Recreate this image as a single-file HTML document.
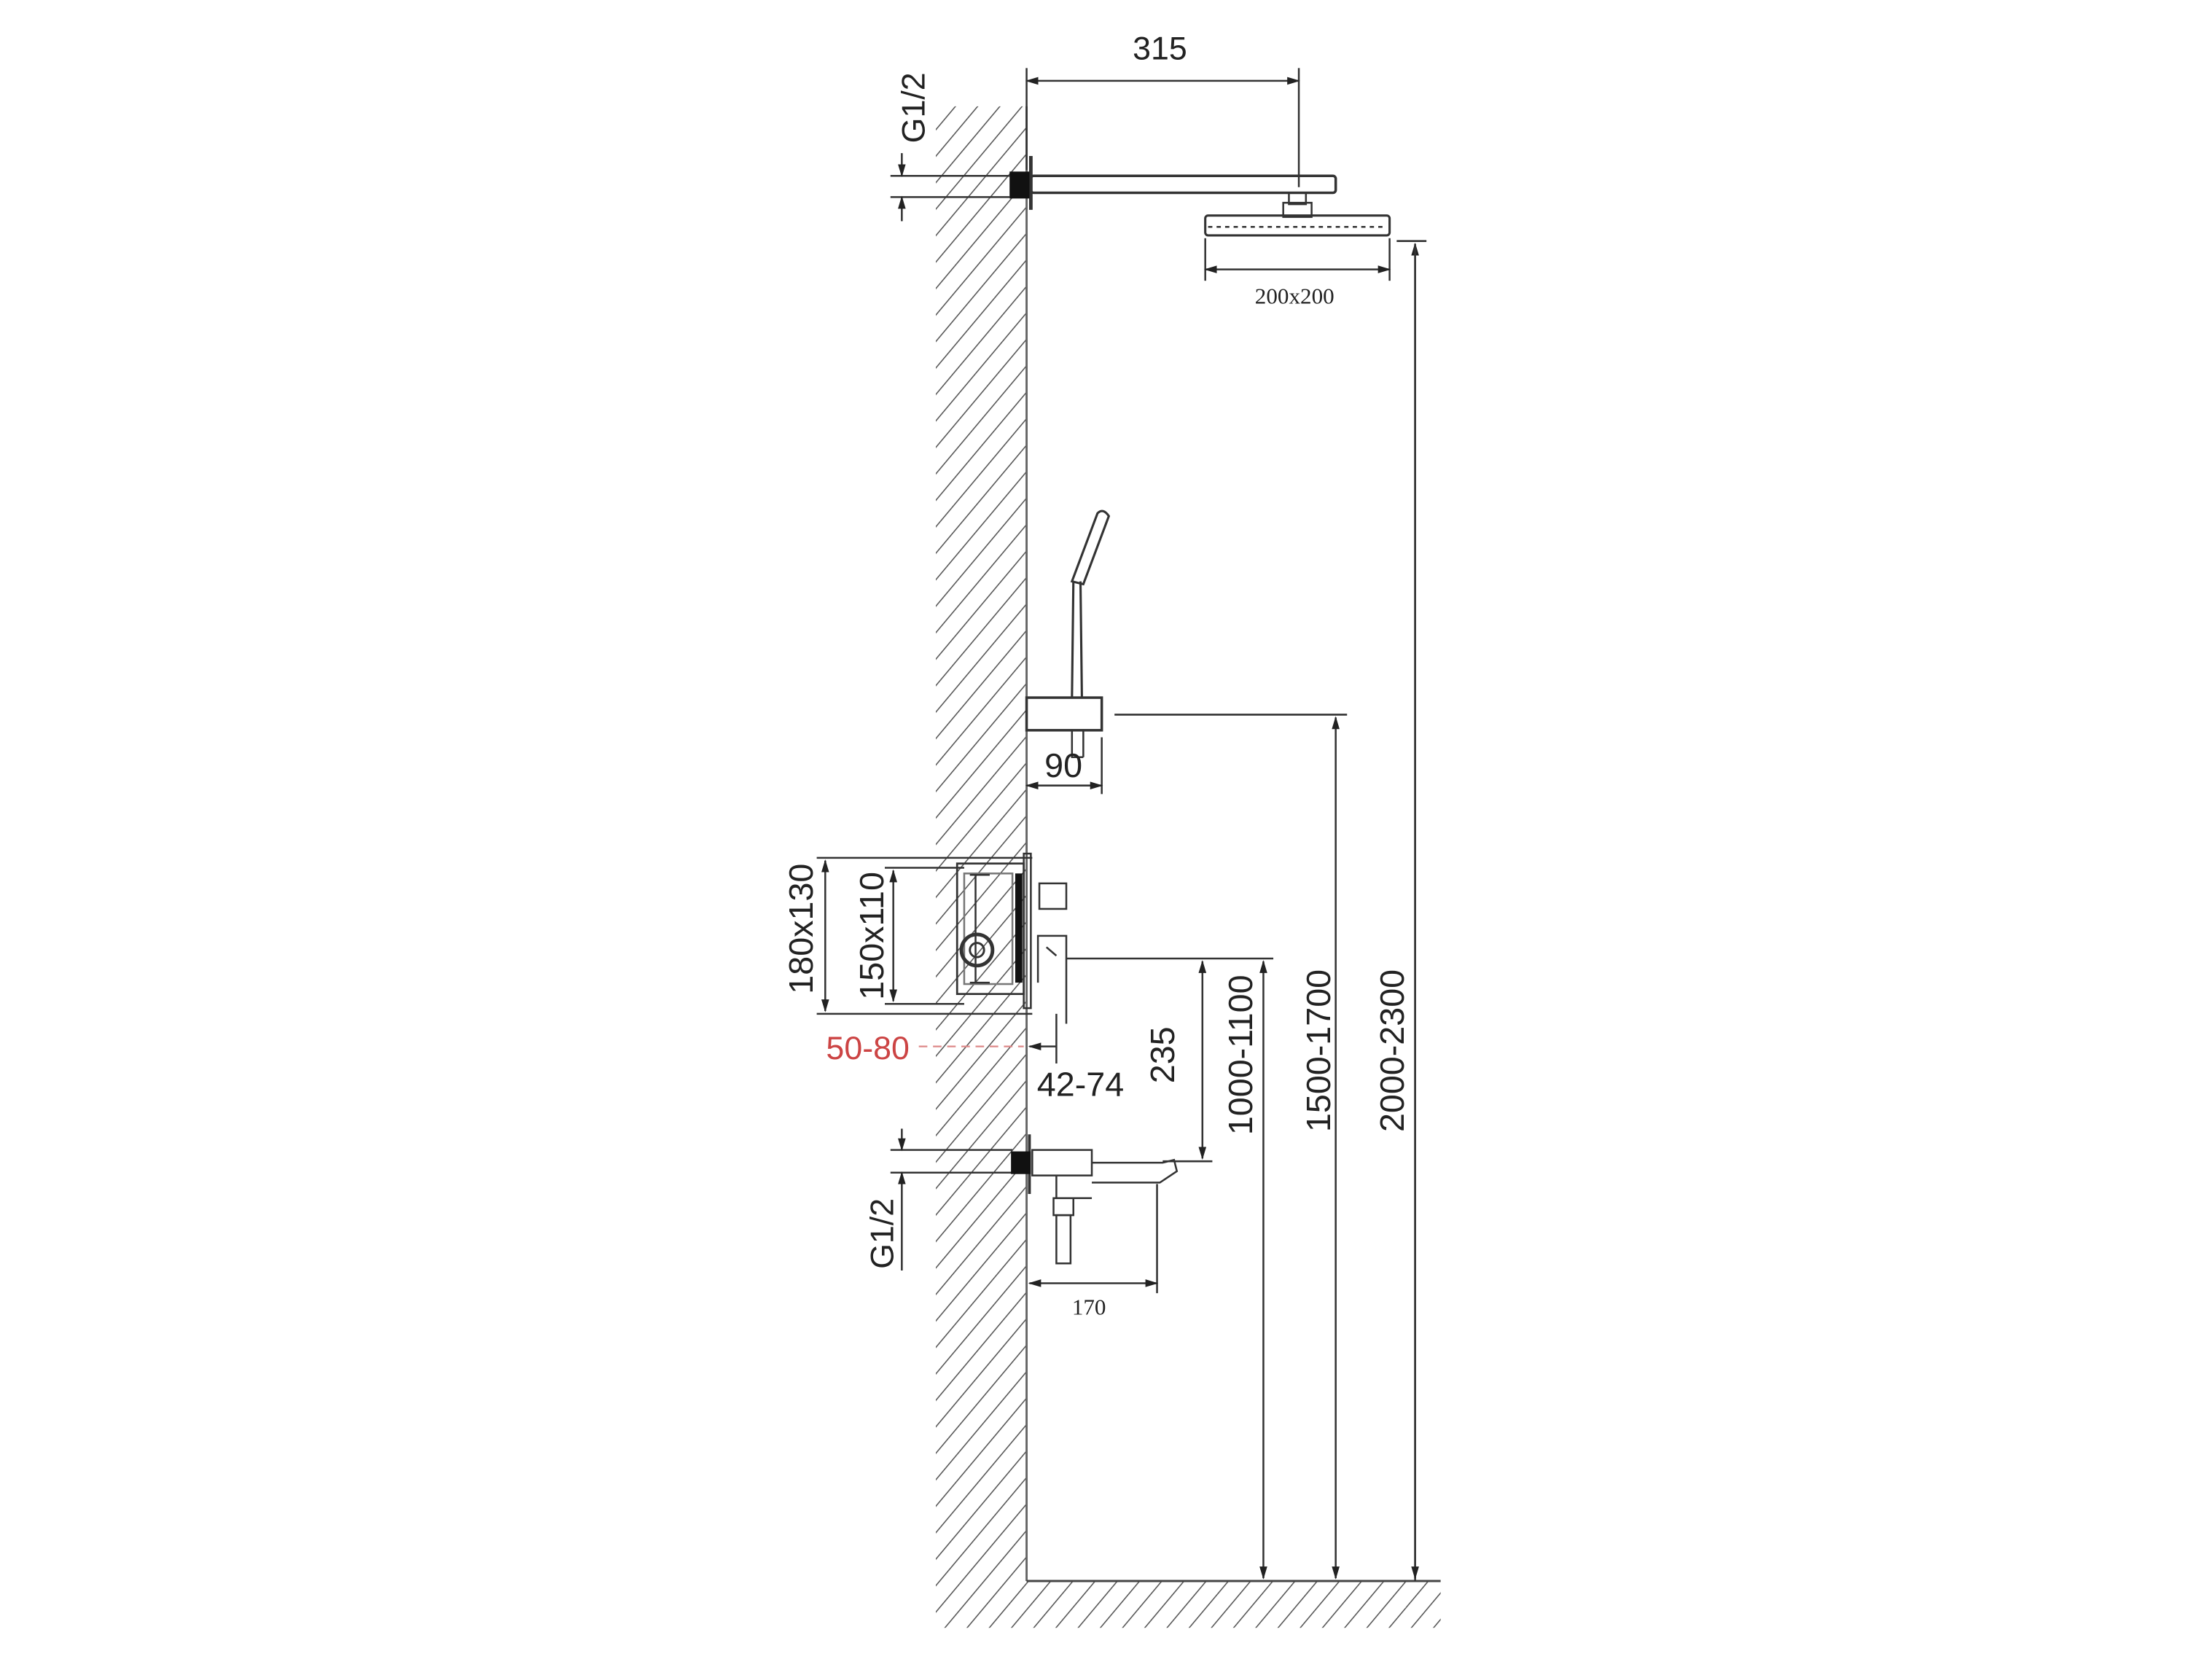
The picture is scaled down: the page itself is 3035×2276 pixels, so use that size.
<!DOCTYPE html>
<html><head><meta charset="utf-8"><style>
html,body{margin:0;padding:0;background:#fff;}
svg{display:block;}
text{font-family:"Liberation Sans",sans-serif;fill:#222;}
.s{font-family:"Liberation Serif",serif;}
</style></head><body>
<svg width="3035" height="2276" viewBox="0 0 1560 1170" preserveAspectRatio="none" xmlns="http://www.w3.org/2000/svg">
<defs>
<pattern id="h" patternUnits="userSpaceOnUse" width="12" height="12" patternTransform="rotate(40)">
<line x1="0" y1="0" x2="0" y2="12" stroke="#555" stroke-width="1.6"/>
</pattern>
<marker id="a" viewBox="0 0 10 10" refX="9" refY="5" markerWidth="7" markerHeight="7" orient="auto-start-reverse"><path d="M0,2 L10,5 L0,8z" fill="#222"/></marker>
</defs>
<rect width="1560" height="1170" fill="#fff"/>
<!-- wall & floor hatch -->
<rect x="660" y="75" width="64" height="1073" fill="url(#h)"/>
<rect x="724" y="1115" width="292" height="33" fill="url(#h)"/>
<line x1="724" y1="75" x2="724" y2="1115" stroke="#666" stroke-width="1.5"/>
<line x1="724" y1="1115" x2="1016" y2="1115" stroke="#444" stroke-width="1.5"/>
<g stroke="#333" fill="none" stroke-width="1.3">
<!-- top dim 315 -->
<line x1="724" y1="57" x2="916" y2="57" marker-start="url(#a)" marker-end="url(#a)"/>
<line x1="724" y1="48" x2="724" y2="120"/>
<line x1="916" y1="48" x2="916" y2="132"/>
<!-- arm -->
<rect x="727" y="124" width="215" height="12" rx="2" stroke-width="1.8"/>
<line x1="727" y1="110" x2="727" y2="148" stroke-width="2.5"/>
<!-- G1/2 top -->
<line x1="628" y1="124" x2="712" y2="124"/>
<line x1="628" y1="139" x2="712" y2="139"/>
<line x1="636" y1="108" x2="636" y2="124" marker-end="url(#a)"/>
<line x1="636" y1="156" x2="636" y2="139" marker-end="url(#a)"/>
<!-- head -->
<rect x="909" y="136" width="12" height="8"/>
<rect x="905" y="143" width="20" height="10"/>
<rect x="850" y="152" width="130" height="14" rx="2" stroke-width="1.6"/>
<line x1="852" y1="160" x2="978" y2="160" stroke-dasharray="3 3"/>
<line x1="850" y1="168" x2="850" y2="198"/>
<line x1="980" y1="168" x2="980" y2="198"/>
<line x1="850" y1="190" x2="980" y2="190" marker-start="url(#a)" marker-end="url(#a)"/>
<!-- big verticals -->
<line x1="985" y1="170" x2="1006" y2="170"/>
<line x1="998" y1="1115" x2="998" y2="172" marker-end="url(#a)"/>
<line x1="998" y1="172" x2="998" y2="1113" marker-end="url(#a)"/>
<line x1="786" y1="504" x2="950" y2="504"/>
<line x1="942" y1="506" x2="942" y2="1113" marker-start="url(#a)" marker-end="url(#a)"/>
<line x1="752" y1="676" x2="898" y2="676"/>
<line x1="891" y1="678" x2="891" y2="1113" marker-start="url(#a)" marker-end="url(#a)"/>
<line x1="848" y1="678" x2="848" y2="817" marker-start="url(#a)" marker-end="url(#a)"/>
<line x1="820" y1="819" x2="855" y2="819"/>
<!-- hand shower -->
<rect x="724" y="492" width="53" height="23" stroke-width="1.8"/>
<path d="M756,492 L757,410 M763,492 L762,410" stroke-width="1.6"/>
<path d="M756,410 L774,362 Q778,358 782,364 L764,412 Z" stroke-width="1.6"/>
<path d="M756,515 L756,534 L764,534 M764,515 L764,534"/>
<line x1="777" y1="520" x2="777" y2="560"/>
<line x1="724" y1="554" x2="777" y2="554" marker-start="url(#a)" marker-end="url(#a)"/>
<!-- mixer box dims -->
<line x1="576" y1="605" x2="728" y2="605"/>
<line x1="576" y1="715" x2="728" y2="715"/>
<line x1="582" y1="607" x2="582" y2="713" marker-start="url(#a)" marker-end="url(#a)"/>
<line x1="624" y1="612" x2="680" y2="612"/>
<line x1="624" y1="708" x2="680" y2="708"/>
<line x1="630" y1="614" x2="630" y2="706" marker-start="url(#a)" marker-end="url(#a)"/>
<!-- mixer box -->
<rect x="675" y="609" width="47" height="92" stroke-width="1.4"/>
<rect x="680" y="616" width="34" height="78" stroke="#777"/>
<rect x="716" y="616" width="5" height="77" fill="#111" stroke="none"/>
<line x1="688" y1="617" x2="688" y2="693"/>
<path d="M684,617 h14 M684,693 h14"/>
<circle cx="689" cy="670" r="11" stroke-width="2.5"/>
<circle cx="689" cy="670" r="5" stroke-width="1.5"/>
<rect x="722" y="602" width="5" height="109"/>
<rect x="733" y="623" width="19" height="18"/>
<path d="M732,693 L732,660 L752,660 L752,722"/>
<path d="M745,674 L738,668"/>
<!-- 42-74 -->
<line x1="745" y1="715" x2="745" y2="750"/>
<line x1="745" y1="738" x2="726" y2="738" marker-end="url(#a)"/>
<!-- spout -->
<line x1="628" y1="811" x2="714" y2="811"/>
<line x1="628" y1="827" x2="714" y2="827"/>
<line x1="636" y1="796" x2="636" y2="811" marker-end="url(#a)"/>
<line x1="636" y1="896" x2="636" y2="827" marker-end="url(#a)"/>
<line x1="726" y1="800" x2="726" y2="842" stroke-width="2"/>
<rect x="728" y="811" width="42" height="18"/>
<path d="M745,829 L745,845 L770,845"/>
<path d="M770,820 L820,820 L828,818 L830,826 L818,834 L770,834"/>
<rect x="743" y="845" width="14" height="12"/>
<rect x="745" y="857" width="10" height="34"/>
<line x1="816" y1="835" x2="816" y2="912"/>
<line x1="726" y1="905" x2="816" y2="905" marker-start="url(#a)" marker-end="url(#a)"/>
</g>
<rect x="712" y="121" width="14" height="19" fill="#111"/>
<rect x="713" y="812" width="14" height="16" fill="#111"/>
<!-- red 50-80 -->
<line x1="648" y1="738" x2="722" y2="738" stroke="#d88" stroke-width="1.2" stroke-dasharray="6 4"/>
<!-- texts -->
<text x="818" y="42" font-size="23" text-anchor="middle">315</text>
<text x="913" y="214" font-size="16" text-anchor="middle" class="s">200x200</text>
<text x="750" y="548" font-size="24" text-anchor="middle">90</text>
<text x="768" y="927" font-size="16" text-anchor="middle" class="s">170</text>
<text x="762" y="773" font-size="24" text-anchor="middle">42-74</text>
<text x="612" y="747" font-size="23" text-anchor="middle" fill="#c44" style="fill:#c44">50-80</text>
<text transform="translate(652,76) rotate(-90)" font-size="23" text-anchor="middle">G1/2</text>
<text transform="translate(630,870) rotate(-90)" font-size="23" text-anchor="middle">G1/2</text>
<text transform="translate(573,655) rotate(-90)" font-size="24" text-anchor="middle">180x130</text>
<text transform="translate(623,660) rotate(-90)" font-size="24" text-anchor="middle">150x110</text>
<text transform="translate(828,744) rotate(-90)" font-size="24" text-anchor="middle">235</text>
<text transform="translate(883,744) rotate(-90)" font-size="24" text-anchor="middle">1000-1100</text>
<text transform="translate(938,741) rotate(-90)" font-size="24" text-anchor="middle">1500-1700</text>
<text transform="translate(990,741) rotate(-90)" font-size="24" text-anchor="middle">2000-2300</text>
</svg>
</body></html>
